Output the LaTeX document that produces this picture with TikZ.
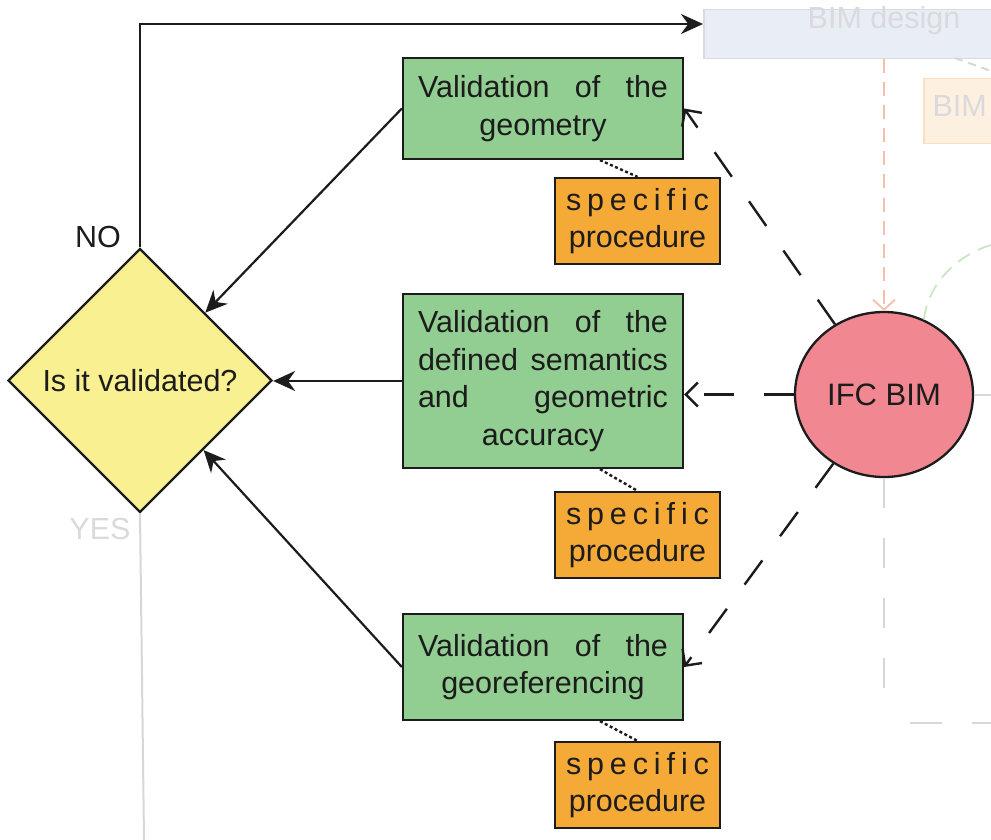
\documentclass[tikz,border=0pt]{standalone}
\usepackage{fontspec}
\setmainfont{Liberation Sans}
\usetikzlibrary{shapes.geometric,arrows.meta,calc}
\definecolor{gfill}{RGB}{146,205,145}
\definecolor{yfill}{RGB}{249,240,145}
\definecolor{ofill}{RGB}{245,170,55}
\definecolor{pfill}{RGB}{240,135,145}
\definecolor{ink}{RGB}{28,28,28}
\definecolor{fadetext}{RGB}{218,218,222}
\definecolor{fadeblue}{RGB}{233,237,245}
\definecolor{fadebluedraw}{RGB}{216,218,224}
\definecolor{fadeorange}{RGB}{254,240,225}
\definecolor{fadeorangedraw}{RGB}{250,222,192}
\definecolor{fadered}{RGB}{245,190,172}
\definecolor{fadegreen}{RGB}{200,230,195}
\definecolor{fadegray}{RGB}{215,215,215}
\tikzset{
  bigfont/.style={font=\fontsize{30.5}{37.5}\selectfont},
  gbox/.style={draw=ink, line width=2.3pt, fill=gfill, minimum width=280pt, inner sep=0pt, align=center, text=ink, bigfont},
  obox/.style={draw=ink, line width=2.3pt, fill=ofill, minimum width=165pt, minimum height=86pt, inner sep=0pt, align=center, text=ink, bigfont},
  solarr/.style={draw=ink, line width=2.2pt, -{Stealth[length=22pt,width=20pt]}},
  dasharr/.style={draw=ink, line width=2.4pt, dash pattern=on 30pt off 30pt, -{Straight Barb[length=12pt,width=24pt,line width=2.4pt]}},
  dotl/.style={draw=ink, line width=2.4pt, dash pattern=on 3pt off 2.5pt},
  fadeline/.style={draw=fadegray, line width=2pt},
}
\newcommand{\jline}[2]{\makebox[#1][s]{#2}}
\begin{document}
\begin{tikzpicture}[x=1pt,y=-1pt]
\useasboundingbox (0,0) rectangle (991,840);
\clip (0,0) rectangle (991,840);

% faded background parts
\node[draw=fadebluedraw, fill=fadeblue, line width=1.5pt, minimum width=300pt, minimum height=49pt, inner sep=0pt, anchor=north west] (bimd) at (703,9) {};
\node[text=fadetext, bigfont, anchor=center] (bimdt) at (884,21) {BIM design};
\node[draw=fadeorangedraw, fill=fadeorange, line width=1.5pt, minimum width=90pt, minimum height=65pt, inner sep=0pt, anchor=north west] (bimb) at (923,78) {};
\node[text=fadetext, bigfont, anchor=west] (bimbt) at (929,106) {BIM};
\coordinate (bdgr1) at (955,58);
\coordinate (bdgr2) at (991,71);
\draw[fadeline, dash pattern=on 8pt off 6pt] (bdgr1) -- (bdgr2);

% main nodes
\node[draw=ink, line width=2.3pt, fill=yfill, shape=diamond, minimum width=264pt, minimum height=264pt, inner sep=0pt, text=ink, bigfont] (dia) at (140,380.5) {Is it validated?};

\node[gbox, minimum height=101pt] (g1) at (543,108.5) {\jline{250pt}{Validation of the}\\geometry};
\node[gbox, minimum height=174pt] (g2) at (543,381) {\jline{250pt}{Validation of the}\\\jline{250pt}{defined semantics}\\\jline{250pt}{and geometric}\\accuracy};
\node[gbox, minimum height=106pt] (g3) at (543,667) {\jline{250pt}{Validation of the}\\georeferencing};

\node[obox] (o1) at (637.5,221) {\jline{143pt}{s p e c i f i c}\\procedure};
\node[obox] (o2) at (637.5,535) {\jline{143pt}{s p e c i f i c}\\procedure};
\node[obox] (o3) at (637.5,785) {\jline{143pt}{s p e c i f i c}\\procedure};

\node[draw=ink, line width=2.3pt, fill=pfill, shape=ellipse, minimum width=178pt, minimum height=165pt, inner sep=0pt, text=ink, font=\fontsize{31}{37}\selectfont] (ifc) at (884,394.5) {IFC BIM};

\node[text=ink, bigfont] (no) at (98,237) {NO};
\node[text=fadetext, bigfont] (yes) at (100,529) {YES};

% faded connectors
\draw[draw=fadered, line width=1.8pt, dash pattern=on 14pt off 9pt, -{Straight Barb[length=10pt,width=22pt,line width=1.8pt]}] (bimd.south -| ifc.north) -- (ifc.north);
\coordinate (garc) at (991,245);
\draw[draw=fadegreen, line width=1.8pt, dash pattern=on 14pt off 9pt] (garc) .. controls (955,256) and (928,285) .. (ifc.62);
\coordinate (ifcr) at (991,394.5);
\draw[fadeline] (ifc.east) -- (ifcr);
\coordinate (ifcd) at (884,693);
\draw[fadeline, dash pattern=on 30pt off 30pt] (ifc.south) -- (ifcd);
\coordinate (hd1) at (910,723);
\coordinate (hd2) at (991,723);
\draw[fadeline, dash pattern=on 32pt off 30pt] (hd1) -- (hd2);
\coordinate (yesend) at (144,840);
\draw[fadeline] (dia.south) -- (yesend);

% top NO connector
\coordinate (bimin) at (703,24);
\draw[solarr] (dia.north) |- (bimin);

% validation to decision
\draw[solarr] (g1.west) -- (dia);
\draw[solarr] (g2.west) -- (g2.west -| dia.east);
\draw[solarr] (g3.west) -- (dia);

% IFC to validations
\draw[dasharr] (ifc) -- (g1.east);
\draw[dasharr] (ifc.west) -- (ifc.west -| g2.east);
\draw[dasharr] (ifc) -- (g3.east);

% dotted links to procedures
\draw[dotl] ($(g1.south)+(57,0)$) -- (o1.north);
\draw[dotl] ($(g2.south)+(57,0)$) -- (o2.north);
\draw[dotl] ($(g3.south)+(57,0)$) -- (o3.north);
\end{tikzpicture}
\end{document}
